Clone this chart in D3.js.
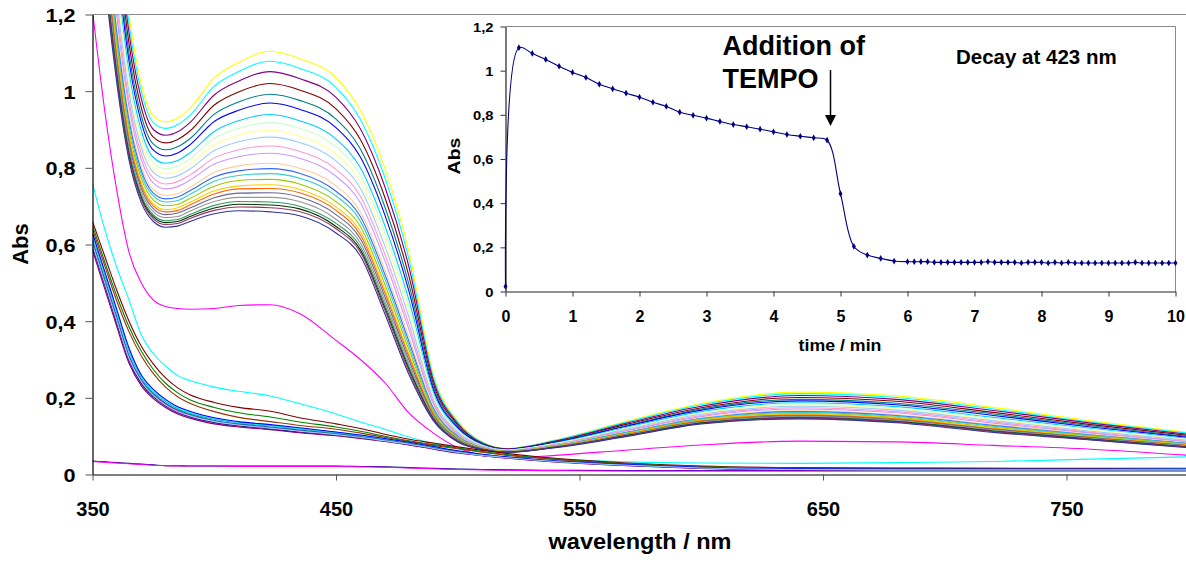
<!DOCTYPE html>
<html><head><meta charset="utf-8">
<script src="https://cdn.jsdelivr.net/npm/d3@7"></script>
<style>
html,body{margin:0;padding:0;background:#fff;}
svg{display:block;font-family:"Liberation Sans",Arial,sans-serif;font-weight:bold;}
</style>
</head><body>
<svg id="chart" width="1186" height="562"></svg>
<script>
// ---------------- DATA ----------------
const wavelengths = [350,355,360,365,370,375,380,385,390,400,410,423,435,450,460,470,480,490,500,510,520,540,570,600,640,680,720,760,800];

// spectra recorded between 0.2 and 4.8 min (band at 423 nm decaying)
const spectraA = [
[2.3,1.9,1.5,1.2,1.02,0.935,0.92,0.93,0.955,1.035,1.075,1.104,1.085,1.035,0.95,0.8,0.58,0.26,0.14,0.085,0.068,0.09,0.14,0.185,0.215,0.205,0.175,0.14,0.11],
[2.26,1.86,1.47,1.176,1.001,0.918,0.903,0.913,0.937,1.013,1.051,1.078,1.06,1.01,0.926,0.776,0.56,0.253,0.137,0.084,0.067,0.089,0.138,0.182,0.211,0.201,0.171,0.137,0.108],
[2.22,1.82,1.44,1.152,0.981,0.9,0.885,0.894,0.918,0.99,1.026,1.051,1.033,0.984,0.902,0.752,0.54,0.245,0.133,0.082,0.067,0.087,0.135,0.178,0.206,0.196,0.167,0.134,0.105],
[2.18,1.78,1.404,1.124,0.958,0.88,0.865,0.874,0.896,0.964,0.998,1.02,1.003,0.954,0.874,0.724,0.516,0.236,0.129,0.081,0.066,0.086,0.132,0.174,0.201,0.191,0.162,0.13,0.102],
[2.14,1.74,1.372,1.099,0.937,0.862,0.847,0.855,0.876,0.94,0.972,0.992,0.976,0.927,0.849,0.699,0.495,0.228,0.125,0.08,0.065,0.085,0.129,0.171,0.196,0.186,0.158,0.127,0.099],
[2.11,1.71,1.345,1.078,0.92,0.846,0.831,0.839,0.86,0.921,0.95,0.969,0.953,0.905,0.828,0.678,0.477,0.221,0.122,0.079,0.065,0.084,0.127,0.168,0.192,0.182,0.154,0.124,0.097],
[2.06,1.66,1.311,1.05,0.898,0.827,0.812,0.819,0.839,0.895,0.923,0.939,0.923,0.875,0.8,0.65,0.454,0.213,0.118,0.077,0.064,0.082,0.124,0.164,0.187,0.177,0.149,0.12,0.094],
[2.03,1.63,1.287,1.031,0.882,0.813,0.798,0.805,0.824,0.877,0.903,0.918,0.903,0.855,0.781,0.631,0.438,0.207,0.116,0.076,0.064,0.081,0.122,0.161,0.184,0.174,0.146,0.118,0.092],
[2.0,1.6,1.264,1.013,0.867,0.8,0.785,0.791,0.81,0.86,0.885,0.898,0.883,0.836,0.763,0.613,0.423,0.201,0.113,0.075,0.063,0.08,0.12,0.159,0.181,0.171,0.143,0.115,0.09],
[1.98,1.58,1.243,0.997,0.854,0.788,0.773,0.779,0.797,0.845,0.868,0.88,0.866,0.818,0.747,0.597,0.409,0.196,0.111,0.074,0.063,0.079,0.119,0.157,0.178,0.168,0.14,0.113,0.089],
[1.95,1.55,1.217,0.976,0.837,0.773,0.758,0.764,0.781,0.826,0.847,0.857,0.843,0.796,0.726,0.576,0.391,0.189,0.108,0.073,0.062,0.078,0.116,0.154,0.174,0.164,0.137,0.11,0.086],
[1.92,1.52,1.195,0.959,0.823,0.76,0.745,0.751,0.768,0.81,0.829,0.838,0.825,0.778,0.709,0.559,0.377,0.184,0.105,0.072,0.062,0.077,0.115,0.151,0.171,0.161,0.134,0.108,0.085],
[1.88,1.48,1.165,0.935,0.804,0.743,0.728,0.733,0.749,0.788,0.805,0.812,0.799,0.753,0.685,0.535,0.357,0.176,0.102,0.071,0.061,0.076,0.112,0.148,0.166,0.156,0.13,0.105,0.082],
[1.86,1.46,1.15,0.923,0.794,0.734,0.719,0.724,0.74,0.776,0.792,0.798,0.786,0.739,0.673,0.523,0.346,0.172,0.1,0.07,0.061,0.075,0.111,0.146,0.164,0.154,0.128,0.103,0.081],
[1.84,1.44,1.135,0.911,0.784,0.726,0.711,0.715,0.731,0.765,0.78,0.785,0.773,0.727,0.661,0.511,0.336,0.169,0.098,0.07,0.06,0.075,0.11,0.145,0.162,0.152,0.126,0.102,0.08],
[1.82,1.42,1.117,0.897,0.773,0.716,0.701,0.705,0.72,0.752,0.767,0.77,0.758,0.712,0.647,0.497,0.325,0.164,0.096,0.069,0.06,0.074,0.108,0.143,0.159,0.149,0.123,0.1,0.078],
[1.8,1.4,1.101,0.884,0.762,0.706,0.691,0.696,0.71,0.74,0.753,0.756,0.744,0.698,0.634,0.484,0.314,0.16,0.094,0.068,0.06,0.073,0.107,0.141,0.157,0.147,0.121,0.098,0.077],
[1.79,1.39,1.09,0.875,0.755,0.7,0.685,0.689,0.703,0.732,0.745,0.746,0.735,0.689,0.625,0.475,0.307,0.158,0.093,0.068,0.059,0.073,0.106,0.14,0.155,0.145,0.119,0.097,0.076],
[1.77,1.37,1.077,0.865,0.747,0.693,0.678,0.682,0.695,0.722,0.734,0.735,0.724,0.678,0.615,0.465,0.298,0.154,0.092,0.067,0.059,0.072,0.105,0.138,0.153,0.143,0.118,0.096,0.075],
[1.75,1.35,1.063,0.854,0.738,0.685,0.67,0.673,0.687,0.712,0.723,0.723,0.712,0.666,0.604,0.454,0.289,0.151,0.09,0.067,0.059,0.072,0.104,0.137,0.151,0.141,0.116,0.094,0.074],
[1.74,1.34,1.05,0.844,0.729,0.677,0.662,0.665,0.678,0.702,0.712,0.711,0.7,0.655,0.594,0.444,0.28,0.147,0.088,0.066,0.059,0.071,0.102,0.135,0.149,0.139,0.114,0.093,0.072],
[1.73,1.33,1.041,0.836,0.723,0.672,0.657,0.66,0.673,0.695,0.705,0.703,0.693,0.647,0.586,0.436,0.274,0.145,0.087,0.066,0.058,0.071,0.102,0.134,0.148,0.138,0.113,0.092,0.072],
[1.72,1.32,1.032,0.83,0.718,0.667,0.652,0.655,0.668,0.689,0.698,0.696,0.686,0.641,0.58,0.43,0.268,0.143,0.086,0.066,0.058,0.071,0.101,0.133,0.147,0.137,0.112,0.091,0.071],
[1.7,1.3,1.02,0.82,0.71,0.66,0.645,0.648,0.66,0.68,0.688,0.685,0.675,0.63,0.57,0.42,0.26,0.14,0.085,0.065,0.058,0.07,0.1,0.132,0.145,0.135,0.11,0.09,0.07]
];
const colorsA = ["#FFFF00","#00FFFF","#800080","#800000","#008080","#0000FF","#00CCFF","#CCFFCC","#FFFF99","#99CCFF","#FF99CC","#CC99FF","#FFCC99","#3366FF","#33CCCC","#99CC00","#FFCC00","#FF6600","#666699","#969696","#339966","#003300","#993366","#333399"];

// spectra right after TEMPO addition (5.0 and 5.2 min)
const spectrum50 = [1.21,0.95,0.74,0.58,0.5,0.455,0.438,0.433,0.431,0.433,0.441,0.443,0.42,0.35,0.3,0.24,0.16,0.108,0.07,0.05,0.043,0.05,0.064,0.077,0.087,0.085,0.076,0.066,0.05];
const spectrum52 = [0.76,0.64,0.54,0.455,0.365,0.315,0.283,0.258,0.245,0.228,0.217,0.205,0.185,0.158,0.137,0.118,0.098,0.081,0.07,0.06,0.052,0.04,0.033,0.03,0.029,0.031,0.034,0.04,0.046];

// 5.4 - 5.8 min
const spectraD = [
[0.66,0.57,0.48,0.4,0.335,0.288,0.252,0.226,0.208,0.188,0.175,0.165,0.148,0.132,0.12,0.105,0.092,0.082,0.072,0.063,0.055,0.042,0.03,0.022,0.018,0.017,0.016,0.016,0.016],
[0.65,0.555,0.465,0.385,0.322,0.274,0.238,0.213,0.195,0.175,0.161,0.15,0.137,0.124,0.113,0.1,0.088,0.078,0.069,0.06,0.052,0.04,0.028,0.021,0.017,0.016,0.016,0.015,0.015],
[0.64,0.545,0.452,0.372,0.31,0.263,0.228,0.203,0.186,0.164,0.149,0.138,0.128,0.118,0.108,0.097,0.086,0.076,0.067,0.058,0.05,0.039,0.027,0.02,0.016,0.015,0.015,0.015,0.014]
];
const colorsD = ["#800000","#008000","#993300"];

// 6.0 - 10.0 min (final product)
const spectraE = [
[0.6,0.5,0.4,0.3,0.24,0.205,0.18,0.163,0.152,0.137,0.128,0.12,0.112,0.104,0.097,0.088,0.079,0.068,0.058,0.05,0.044,0.034,0.024,0.017,0.013,0.012,0.012,0.012,0.012],
[0.61,0.51,0.41,0.31,0.247,0.21,0.185,0.167,0.156,0.14,0.131,0.123,0.115,0.106,0.099,0.09,0.08,0.069,0.059,0.051,0.044,0.034,0.024,0.017,0.014,0.013,0.012,0.013,0.013],
[0.62,0.52,0.42,0.32,0.253,0.215,0.19,0.171,0.16,0.144,0.134,0.126,0.118,0.108,0.101,0.092,0.082,0.071,0.06,0.052,0.045,0.035,0.025,0.018,0.014,0.013,0.013,0.013,0.013],
[0.59,0.49,0.39,0.295,0.236,0.2,0.177,0.16,0.149,0.134,0.125,0.118,0.11,0.102,0.095,0.087,0.078,0.067,0.057,0.049,0.043,0.033,0.023,0.016,0.013,0.011,0.011,0.012,0.012],
[0.615,0.515,0.415,0.315,0.25,0.213,0.188,0.169,0.158,0.142,0.133,0.125,0.117,0.107,0.1,0.091,0.081,0.07,0.06,0.051,0.045,0.035,0.024,0.018,0.014,0.012,0.013,0.012,0.013],
[0.595,0.495,0.395,0.298,0.238,0.203,0.179,0.162,0.151,0.136,0.127,0.119,0.111,0.103,0.096,0.088,0.078,0.068,0.058,0.05,0.044,0.034,0.024,0.017,0.013,0.012,0.012,0.011,0.012],
[0.605,0.505,0.405,0.305,0.244,0.208,0.183,0.165,0.154,0.139,0.13,0.122,0.114,0.105,0.098,0.089,0.08,0.069,0.059,0.05,0.044,0.034,0.024,0.017,0.013,0.013,0.012,0.012,0.012],
[0.625,0.525,0.425,0.325,0.256,0.218,0.193,0.174,0.162,0.146,0.136,0.128,0.12,0.11,0.102,0.093,0.083,0.072,0.061,0.052,0.046,0.035,0.025,0.018,0.014,0.013,0.013,0.013,0.014],
[0.585,0.485,0.385,0.29,0.232,0.198,0.175,0.158,0.147,0.132,0.124,0.117,0.109,0.101,0.094,0.086,0.077,0.066,0.056,0.049,0.043,0.033,0.023,0.016,0.012,0.011,0.011,0.011,0.011],
[0.61,0.51,0.41,0.31,0.248,0.211,0.186,0.168,0.157,0.141,0.132,0.124,0.116,0.106,0.099,0.09,0.081,0.07,0.059,0.051,0.045,0.034,0.024,0.017,0.014,0.012,0.012,0.012,0.012],
[0.63,0.53,0.43,0.33,0.26,0.222,0.196,0.177,0.165,0.148,0.138,0.13,0.122,0.111,0.103,0.094,0.084,0.073,0.062,0.053,0.046,0.036,0.026,0.019,0.015,0.014,0.014,0.014,0.014],
[0.6,0.5,0.4,0.302,0.242,0.206,0.181,0.164,0.153,0.138,0.129,0.121,0.113,0.104,0.097,0.088,0.079,0.068,0.058,0.05,0.044,0.034,0.024,0.017,0.013,0.012,0.012,0.012,0.012]
];
const colorsE = ["#9999FF","#993366","#0066CC","#FF8080","#CCCCFF","#000080","#FF00FF","#00FFFF","#800080","#008080","#0000FF","#99CCFF"];

// spectra before reaction (t = 0)
const spectraBase = [
[0.035,0.033,0.031,0.029,0.027,0.025,0.023,0.023,0.022,0.022,0.022,0.022,0.022,0.022,0.021,0.02,0.018,0.016,0.014,0.013,0.012,0.011,0.01,0.01,0.01,0.01,0.01,0.01,0.01],
[0.034,0.032,0.03,0.028,0.026,0.024,0.023,0.022,0.022,0.022,0.021,0.021,0.021,0.021,0.02,0.019,0.017,0.015,0.013,0.012,0.011,0.01,0.009,0.009,0.009,0.009,0.009,0.009,0.009]
];
const colorsBase = ["#000080","#FF00FF"];

const mainXTicks = [350,450,550,650,750];
const mainYTicks = [0,0.2,0.4,0.6,0.8,1,1.2];

// inset: decay at 423 nm
const insetTimes = [0,0.2,0.4,0.6,0.8,1,1.2,1.4,1.6,1.8,2,2.2,2.4,2.6,2.8,3,3.2,3.4,3.6,3.8,4,4.2,4.4,4.6,4.8,5,5.2,5.4,5.6,5.8,
6,6.1,6.2,6.3,6.4,6.5,6.6,6.7,6.8,6.9,7,7.1,7.2,7.3,7.4,7.5,7.6,7.7,7.8,7.9,8,8.1,8.2,8.3,8.4,8.5,8.6,8.7,8.8,8.9,9,9.1,9.2,9.3,9.4,9.5,9.6,9.7,9.8,9.9,10];
const insetAbs = [0.023,1.104,1.078,1.051,1.02,0.992,0.969,0.939,0.918,0.898,0.88,0.857,0.838,0.812,0.798,0.785,0.77,0.756,0.746,0.735,0.723,0.711,0.703,0.696,0.685,0.443,0.204,0.165,0.15,0.138,
0.135,0.135,0.135,0.135,0.132,0.132,0.132,0.132,0.132,0.132,0.132,0.132,0.135,0.132,0.132,0.132,0.132,0.129,0.132,0.132,0.132,0.129,0.132,0.129,0.132,0.129,0.129,0.129,0.129,0.129,0.129,0.129,0.129,0.129,0.132,0.129,0.129,0.129,0.129,0.129,0.129];
const insetXTicks = [0,1,2,3,4,5,6,7,8,9,10];
const insetYTicks = [0,0.2,0.4,0.6,0.8,1,1.2];

// ---------------- DRAWING ----------------
const svg = d3.select("#chart");
const fmt = d => String(d).replace(".", ",");

function label(parent, s, x, y, size, sx, anchor, rot) {
  const g = parent.append("g").attr("transform", `translate(${x},${y}) rotate(${rot||0}) scale(${sx},1)`);
  g.append("text").attr("text-anchor", anchor).attr("font-size", size).attr("fill", "#000").text(s);
  return g;
}

// main chart
const x = d3.scaleLinear().domain([350, 800]).range([92.5, 1188.3]);
const y = d3.scaleLinear().domain([0, 1.2]).range([474.5, 14.5]);

svg.append("defs").append("clipPath").attr("id", "plotclip")
  .append("rect").attr("x", 92.5).attr("y", 14.5).attr("width", 1100).attr("height", 460);

// top border
svg.append("line").attr("x1", x(350)).attr("x2", 1186).attr("y1", y(1.2)).attr("y2", y(1.2))
  .attr("stroke", "#8a8a8a").attr("stroke-width", 1);

const line = d3.line().x((d, i) => x(wavelengths[i])).y(d => y(d)).curve(d3.curveMonotoneX);

const series = [];
spectraBase.forEach((v, i) => series.push({ v, c: colorsBase[i] }));
spectraA.forEach((v, i) => series.push({ v, c: colorsA[i % colorsA.length] }));
series.push({ v: spectrum50, c: "#FF00FF" });
series.push({ v: spectrum52, c: "#00FFFF" });
spectraD.forEach((v, i) => series.push({ v, c: colorsD[i] }));
spectraE.forEach((v, i) => series.push({ v, c: colorsE[i % colorsE.length] }));

svg.append("g").attr("clip-path", "url(#plotclip)")
  .selectAll("path").data(series).join("path")
  .attr("d", d => line(d.v)).attr("fill", "none")
  .attr("stroke", d => d.c).attr("stroke-width", 1.1);

// axes
const yAxis = svg.append("g").attr("transform", `translate(${x(350)},0)`)
  .call(d3.axisLeft(y).tickValues(mainYTicks).tickFormat(fmt).tickSize(7).tickSizeOuter(0));
const xAxis = svg.append("g").attr("transform", `translate(0,${y(0)})`)
  .call(d3.axisBottom(x).tickValues(mainXTicks).tickFormat(d3.format("d")).tickSize(6).tickSizeOuter(0));
[yAxis, xAxis].forEach(a => {
  a.select(".domain").attr("stroke", "#000").attr("stroke-width", 1.2);
  a.selectAll(".tick line").attr("stroke", "#555");
  a.selectAll("text").attr("font-family", "Liberation Sans, Arial, sans-serif").attr("font-weight", "bold").attr("fill", "#000");
});
yAxis.selectAll("text").attr("font-size", 19).attr("x", -17 / 1.14).attr("dy", "0.36em")
  .attr("transform", "scale(1.14,1)");
xAxis.selectAll("text").attr("font-size", 20).attr("y", 34).attr("dy", "0.36em");

label(svg, "wavelength / nm", 640, 548.5, 22, 1.07, "middle", 0);
label(svg, "Abs", 28, 244, 22, 1.0, "middle", -90);

// ---------------- INSET ----------------
const ix = d3.scaleLinear().domain([0, 10]).range([505.5, 1175.5]);
const iy = d3.scaleLinear().domain([0, 1.2]).range([291.5, 26.5]);
const inset = svg.append("g");
inset.append("rect").attr("x", ix(0)).attr("y", iy(1.2)).attr("width", ix(10) - ix(0)).attr("height", iy(0) - iy(1.2))
  .attr("fill", "#fff");
inset.append("path")
  .attr("d", `M${ix(0)},${iy(1.2)}H${ix(10)}V${iy(0)}`)
  .attr("fill", "none").attr("stroke", "#8a8a8a").attr("stroke-width", 1);

const iyAxis = inset.append("g").attr("transform", `translate(${ix(0)},0)`)
  .call(d3.axisLeft(iy).tickValues(insetYTicks).tickFormat(fmt).tickSize(5).tickSizeOuter(0));
const ixAxis = inset.append("g").attr("transform", `translate(0,${iy(0)})`)
  .call(d3.axisBottom(ix).tickValues(insetXTicks).tickFormat(d3.format("d")).tickSize(5).tickSizeOuter(0));
[iyAxis, ixAxis].forEach(a => {
  a.select(".domain").attr("stroke", "#222").attr("stroke-width", 1.2);
  a.selectAll(".tick line").attr("stroke", "#333");
  a.selectAll("text").attr("font-family", "Liberation Sans, Arial, sans-serif").attr("font-weight", "bold").attr("fill", "#000");
});
iyAxis.selectAll("text").attr("font-size", 12.5).attr("x", -12 / 1.18).attr("dy", "0.36em")
  .attr("transform", "scale(1.18,1)");
ixAxis.selectAll("text").attr("font-size", 16).attr("y", 25).attr("dy", "0.36em");

const iline = d3.line().x((d, i) => ix(insetTimes[i])).y(d => iy(d)).curve(d3.curveCatmullRom.alpha(0.5));
inset.append("path").attr("d", iline(insetAbs)).attr("fill", "none")
  .attr("stroke", "#000080").attr("stroke-width", 1.1);
const diamond = d3.symbol().type(d3.symbolDiamond).size(13);
inset.selectAll(".mk").data(insetAbs).join("path").attr("class", "mk")
  .attr("transform", (d, i) => `translate(${ix(insetTimes[i])},${iy(d)})`)
  .attr("d", diamond).attr("fill", "#000080");

label(inset, "time / min", 840, 351, 16, 1.11, "middle", 0);
label(inset, "Abs", 460, 156, 16, 1.22, "middle", -90);
label(inset, "Decay at 423 nm", 956, 63.5, 20.5, 1.0, "start", 0);
label(inset, "Addition of", 722.5, 55, 27, 1.0, "start", 0);
label(inset, "TEMPO", 722.5, 88, 27, 1.0, "start", 0);

// arrow
inset.append("line").attr("x1", 830.5).attr("x2", 830.5).attr("y1", 70).attr("y2", 117)
  .attr("stroke", "#000").attr("stroke-width", 1.5);
inset.append("path").attr("d", "M825,115L836,115L830.5,126Z").attr("fill", "#000");
</script>
</body></html>
